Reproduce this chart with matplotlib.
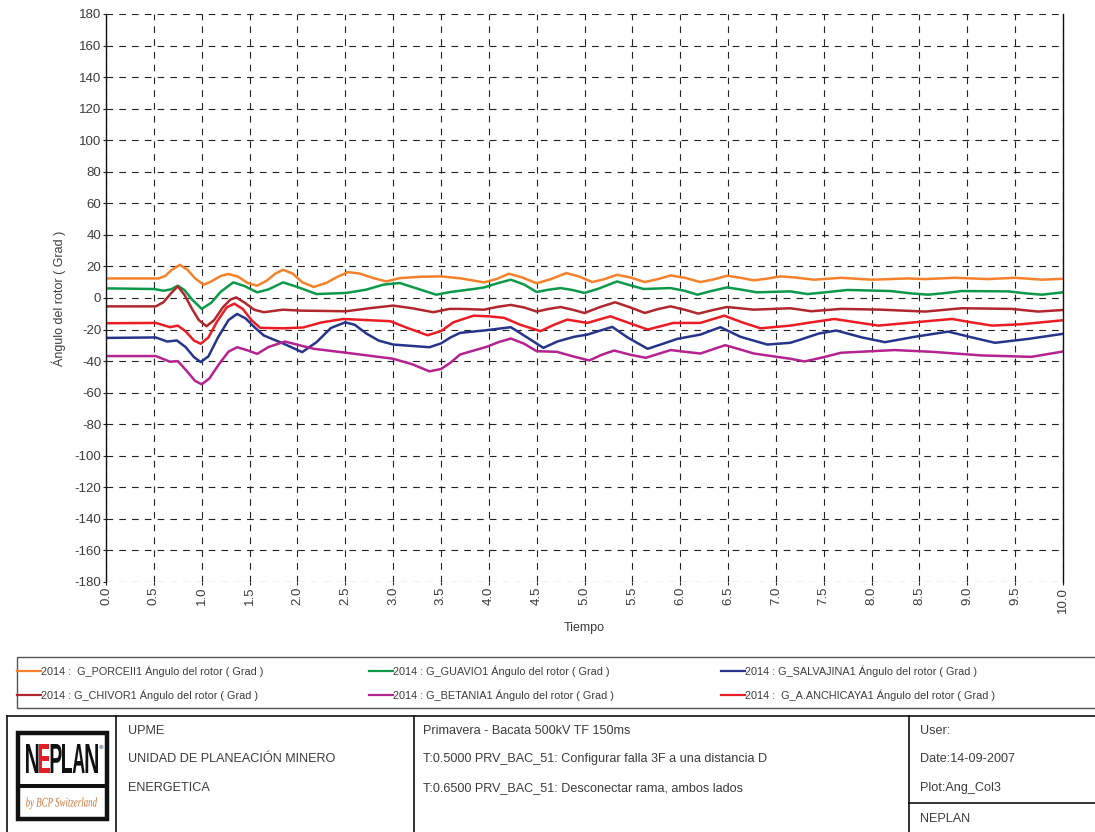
import numpy as np
import matplotlib
matplotlib.use("Agg")
import matplotlib.pyplot as plt
from matplotlib.patches import Rectangle, PathPatch
from matplotlib.textpath import TextPath
from matplotlib.font_manager import FontProperties
from matplotlib.transforms import Affine2D

plt.rcParams["font.family"] = ["Liberation Sans", "DejaVu Sans"]
plt.rcParams["axes.unicode_minus"] = False

# --- data (time [s], rotor angle [deg]) ---
porce = [(0, 12.4), (0.55, 12.4), (0.62, 14), (0.68, 17.5), (0.77, 21), (0.85, 18),
         (0.93, 12.5), (1.02, 8.4), (1.1, 10.5), (1.2, 14), (1.28, 15.2), (1.38, 13.5),
         (1.48, 9.5), (1.58, 7.8), (1.68, 11), (1.77, 15.5), (1.85, 17.9), (1.95, 15.5),
         (2.05, 10), (2.17, 7), (2.3, 9.5), (2.42, 13.5), (2.53, 16.4), (2.65, 15.5),
         (2.8, 12.5), (2.93, 10.5), (3.07, 12.6), (3.3, 13.5), (3.5, 13.7), (3.7, 12.5),
         (3.95, 9.9), (4.08, 12), (4.21, 15.4), (4.35, 13), (4.5, 9.3), (4.65, 12),
         (4.81, 15.8), (4.95, 13.5), (5.08, 10.1), (5.2, 11.8), (5.34, 14.7), (5.48, 13),
         (5.63, 10.1), (5.77, 12), (5.9, 14.3), (6.05, 12.8), (6.21, 10.1), (6.35, 11.8),
         (6.49, 14.1), (6.63, 12.8), (6.77, 11.2), (6.9, 12.2), (7.05, 13.7), (7.2, 13),
         (7.4, 11.6), (7.68, 12.8), (8.0, 11.6), (8.38, 12.4), (8.56, 12), (8.87, 12.8),
         (9.22, 12), (9.5, 12.8), (9.78, 11.6), (10.0, 12.2)]

guavio = [(0, 6.1), (0.5, 5.7), (0.6, 4.6), (0.68, 5.5), (0.75, 7.8), (0.82, 5),
          (0.9, -1), (1.0, -6.9), (1.1, -3), (1.2, 4), (1.33, 9.9), (1.45, 7.5),
          (1.58, 3.6), (1.7, 5.5), (1.85, 9.9), (2.0, 7), (2.2, 2.5), (2.51, 3.2),
          (2.72, 5.3), (2.9, 8.5), (3.07, 9.5), (3.25, 6), (3.45, 2.1), (3.6, 3.8),
          (3.84, 5.7), (3.95, 6.7), (4.1, 9.5), (4.23, 11.6), (4.37, 8.5), (4.5, 3.8),
          (4.62, 5.2), (4.75, 6.3), (4.88, 5), (5.0, 3.2), (5.15, 6), (5.34, 10.5),
          (5.48, 8), (5.62, 5.7), (5.9, 6.3), (6.05, 4.5), (6.18, 2.1), (6.33, 4.5),
          (6.49, 6.7), (6.65, 5.2), (6.8, 3.6), (7.15, 4.2), (7.33, 2.5), (7.5, 3.5),
          (7.75, 5.1), (8.2, 4.4), (8.4, 3), (8.59, 2.1), (8.75, 3), (8.94, 4.4),
          (9.43, 4.2), (9.6, 3), (9.78, 2.1), (10, 3.6)]

chivor = [(0, -5.3), (0.52, -5.3), (0.6, -2.7), (0.68, 3), (0.75, 7.4), (0.82, 2),
          (0.9, -7), (0.97, -14), (1.05, -17.9), (1.13, -14), (1.22, -6), (1.3, -1),
          (1.36, 0.4), (1.45, -3), (1.55, -7.5), (1.65, -9), (1.85, -7.4), (2.03, -8),
          (2.51, -8.4), (2.75, -6.5), (3.0, -4.8), (3.2, -6.5), (3.42, -9), (3.59, -6.9),
          (3.7, -6.9), (3.95, -7.4), (4.1, -5.5), (4.23, -4.4), (4.37, -6), (4.5, -8.6),
          (4.62, -7), (4.75, -5.7), (4.88, -7.5), (5.0, -9.5), (5.15, -6), (5.32, -2.7),
          (5.48, -6), (5.63, -9.5), (5.77, -7), (5.9, -5.3), (6.05, -7.5), (6.19, -9.9),
          (6.35, -7.5), (6.49, -5.7), (6.77, -7.4), (7.15, -6.5), (7.37, -8.4), (7.68, -6.9),
          (8.1, -7.4), (8.56, -8.6), (8.94, -6.5), (9.46, -6.9), (9.74, -8.6), (10, -7.6)]

anchicaya = [(0, -16), (0.52, -15.8), (0.67, -18.5), (0.75, -17.5), (0.83, -21), (0.92, -27),
             (0.99, -29), (1.07, -25), (1.16, -15), (1.26, -6), (1.34, -3.6), (1.43, -7),
             (1.52, -14), (1.61, -18.9), (1.85, -19.2), (2.06, -18.7), (2.25, -15.5),
             (2.48, -13.3), (2.97, -14.7), (3.15, -19), (3.36, -23.6), (3.5, -21),
             (3.63, -15.4), (3.84, -11.2), (4.0, -11.6), (4.16, -12.6), (4.33, -17),
             (4.54, -21), (4.68, -17), (4.82, -13.7), (5.03, -15.8), (5.27, -11.6),
             (5.45, -15.5), (5.66, -20), (5.93, -15.8), (6.21, -15.8), (6.46, -11.2),
             (6.65, -15.5), (6.84, -19.2), (7.15, -17.5), (7.33, -15.8), (7.61, -13.3),
             (7.85, -15.5), (8.07, -17.5), (8.45, -15.4), (8.84, -13.3), (9.05, -15.5),
             (9.26, -17.5), (9.57, -16.6), (10, -14.1)]

salvajina = [(0, -25.3), (0.52, -25), (0.64, -27.6), (0.74, -26.9), (0.83, -31), (0.92, -37.5),
             (0.99, -40.6), (1.07, -37), (1.17, -25), (1.28, -14), (1.37, -10.1), (1.46, -13),
             (1.56, -19), (1.65, -23.8), (1.85, -28.8), (2.05, -34.3), (2.2, -28), (2.35, -19),
             (2.5, -15.4), (2.6, -17), (2.72, -22.5), (2.85, -27), (3.0, -29.5), (3.38, -31.2),
             (3.5, -28.8), (3.6, -25), (3.7, -22.1), (3.95, -20.6), (4.23, -18.5), (4.4, -25),
             (4.57, -31.6), (4.72, -27.5), (4.89, -24.6), (5.03, -23.2), (5.29, -18.3),
             (5.45, -25), (5.66, -32.2), (5.82, -29), (5.97, -25.9), (6.21, -23.2),
             (6.42, -18.5), (6.63, -24.6), (6.91, -29.5), (7.15, -28.4), (7.26, -26.3),
             (7.45, -22.5), (7.63, -20.6), (7.9, -25), (8.14, -28), (8.45, -24.6), (8.8, -21.3),
             (9.05, -25), (9.29, -28.4), (9.64, -25.9), (10, -22.7)]

betania = [(0, -36.8), (0.52, -36.8), (0.67, -40.4), (0.75, -40), (0.84, -46), (0.93, -52.5),
           (1.0, -54.7), (1.08, -51), (1.18, -42), (1.28, -34), (1.37, -31.2), (1.47, -33),
           (1.58, -35.4), (1.7, -31), (1.87, -27.6), (2.17, -32.2), (2.51, -34.7), (3.0, -38.5),
           (3.2, -42), (3.38, -46.5), (3.5, -45), (3.6, -41), (3.7, -35.8), (3.98, -30.9),
           (4.1, -28), (4.23, -25.7), (4.37, -29), (4.5, -33.7), (4.71, -34.1), (4.88, -37),
           (5.05, -39.6), (5.18, -36), (5.31, -33.3), (5.48, -36), (5.64, -37.9), (5.9, -33),
           (6.21, -35.2), (6.47, -29.9), (6.62, -32.5), (6.77, -35.2), (7.15, -38.5),
           (7.3, -40.2), (7.5, -37.5), (7.68, -34.7), (8.24, -33), (8.63, -34.1),
           (9.15, -36.4), (9.67, -37.3), (10, -33.9)]

# legend order: row 1 then row 2
series = [porce, guavio, salvajina, chivor, betania, anchicaya]
labels = ["2014 :  G_PORCEII1 Ángulo del rotor ( Grad )",
          "2014 : G_GUAVIO1 Ángulo del rotor ( Grad )",
          "2014 : G_SALVAJINA1 Ángulo del rotor ( Grad )",
          "2014 : G_CHIVOR1 Ángulo del rotor ( Grad )",
          "2014 : G_BETANIA1 Ángulo del rotor ( Grad )",
          "2014 :  G_A.ANCHICAYA1 Ángulo del rotor ( Grad )"]
colors = ["#F5822A", "#0C9A4A", "#27348B", "#B0282E", "#B4238F", "#EC1C24"]

yticks = np.arange(-180, 181, 20)
xticks = np.arange(0, 10.01, 0.5)

W, H = 1095, 832
TXT = "#3c3c3c"

fig = plt.figure(figsize=(W / 100, H / 100), dpi=100)

# overlay in pixel coords (y down) for legend box and title block
ov = fig.add_axes([0, 0, 1, 1])
ov.set_xlim(0, W)
ov.set_ylim(H, 0)
ov.axis("off")

ax = fig.add_axes([106 / W, 1 - 582 / H, (1063 - 106) / W, (582 - 14) / H])
for pts, c in zip(series, colors):
    t, v = np.array(pts).T
    ax.plot(t, v, color=c, lw=1.8, solid_joinstyle="round", solid_capstyle="round")

ax.set_xlim(0, 10)
ax.set_ylim(-180, 180)
ax.set_yticks(yticks)
ax.set_xticks(xticks)
ax.set_xticklabels([f"{x:.1f}" for x in xticks], rotation=90)
ax.tick_params(axis="both", labelsize=9.5, labelcolor=TXT, length=2, pad=1.5, color="#222")
ax.grid(True, color="#222", lw=0.8, ls=(0, (6, 5.5)))
ax.spines["top"].set_visible(False)
ax.spines["bottom"].set_visible(False)
for s in ("left", "right"):
    ax.spines[s].set_color("#111")
    ax.spines[s].set_linewidth(1.0)
ax.set_ylabel("Ángulo del rotor ( Grad )", fontsize=9, color=TXT, labelpad=6)
ax.set_xlabel("Tiempo", fontsize=9, color=TXT, labelpad=7)

# --- legend box ---
ov.add_patch(Rectangle((17, 656.5), W - 17 + 5, 51, fill=False, ec="#555", lw=1.0))
col_x = [17, 369, 721]
row_y = [671, 695]
for i, (lab, c) in enumerate(zip(labels, colors)):
    x0 = col_x[i % 3]
    y0 = row_y[i // 3]
    ov.plot([x0, x0 + 24], [y0, y0], color=c, lw=1.6)
    ov.text(x0 + 24, y0, lab, fontsize=7.8, color=TXT, va="center", ha="left")

# --- title block ---
lk = dict(color="#111", lw=1.2)
ov.plot([6.5, W], [716, 716], **lk)
ov.plot([6.5, 6.5], [716, H], **lk)
ov.plot([116, 116], [716, H], **lk)
ov.plot([414, 414], [716, H], **lk)
ov.plot([909, 909], [716, H], **lk)
ov.plot([909, W], [803, 803], **lk)

fs = 9.1
for y, s in zip([731, 759, 788], ["UPME", "UNIDAD DE PLANEACIÓN MINERO", "ENERGETICA"]):
    ov.text(128, y, s, fontsize=fs, color=TXT, va="center")
for y, s in zip([731, 759, 788], ["Primavera - Bacata 500kV TF 150ms",
                                  "T:0.5000 PRV_BAC_51: Configurar falla 3F a una distancia D",
                                  "T:0.6500 PRV_BAC_51: Desconectar rama, ambos lados"]):
    ov.text(423, y, s, fontsize=fs, color=TXT, va="center")
for y, s in zip([731, 759, 788, 819], ["User:", "Date:14-09-2007", "Plot:Ang_Col3", "NEPLAN"]):
    ov.text(920, y, s, fontsize=fs, color=TXT, va="center")

# --- NEPLAN logo ---
ov.add_patch(Rectangle((17.5, 732.5), 89, 86, fc="white", ec="#111", lw=3.2))
ov.add_patch(Rectangle((17.5, 784), 89, 3.5, fc="#111", ec="none"))


def put_word(text, x, ybase, width, height, color, fp):
    tp = TextPath((0, 0), text, size=10, prop=fp)
    ext = tp.get_extents()
    sx = width / ext.width
    sy = height / ext.height
    tr = Affine2D().translate(-ext.x0, 0).scale(sx, -sy).translate(x, ybase)
    ov.add_patch(PathPatch(tr.transform_path(tp), fc=color, ec="none"))


bold = FontProperties(family="Liberation Sans", weight="bold")
# N E P L A N with red E, condensed
letters = ["N", "E", "P", "L", "A", "N"]
lcol = ["#111", "#E01F26", "#111", "#111", "#111", "#111"]
lw_ = [12.5, 10.5, 11, 9.5, 12, 12.5]
xx = 26
for ch, cc, ww in zip(letters, lcol, lw_):
    put_word(ch, xx, 773, ww, 29, cc, bold)
    xx += ww + 0.8
ov.add_patch(plt.Circle((xx + 2.5, 747), 2.2, fc="#9aa7b5", ec="none"))

serif = FontProperties(family="Liberation Serif", style="italic")
put_word("by BCP Switzerland", 26, 806.5, 71, 12, "#C8773F", serif)

fig.savefig("out.png", dpi=100)
